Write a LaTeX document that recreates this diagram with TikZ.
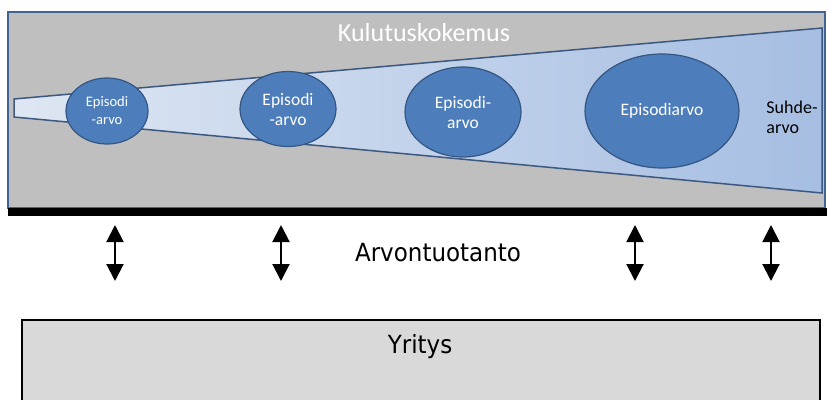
\documentclass[tikz,border=0pt]{standalone}
\usepackage{fontspec}
\setmainfont{Carlito}
\newfontfamily\plainsans[FakeStretch=0.92]{DejaVu Sans}
\usepackage{tikz}
\usetikzlibrary{arrows.meta,shapes.geometric}
\definecolor{frameblue}{RGB}{66,100,146}
\definecolor{panelgray}{RGB}{191,191,191}
\definecolor{wedgeleft}{RGB}{222,231,243}
\definecolor{wedgeright}{RGB}{166,190,226}
\definecolor{wedgeline}{RGB}{60,88,128}
\definecolor{epifill}{RGB}{77,125,186}
\definecolor{epiline}{RGB}{52,86,130}
\definecolor{boxgray}{RGB}{217,217,217}

\begin{document}
\begin{tikzpicture}[
  x=1pt, y=-1pt,
  frame/.style={
    draw=frameblue,
    line width=2.5pt,
    fill=panelgray
  },
  wedge/.style={
    draw=wedgeline,
    line width=1.5pt,
    left color=wedgeleft,
    right color=wedgeright
  },
  episode/.style={
    ellipse,
    draw=epiline,
    line width=1.2pt,
    fill=epifill,
    text=white,
    align=center,
    inner sep=0pt,
    font=\fontsize{17.5}{20}\selectfont
  },
  twoway/.style={{Triangle[width=17pt,length=17pt]}-{Triangle[width=17pt,length=17pt]}, line width=2pt},
  company/.style={draw=black, line width=1.5pt, fill=boxgray}
]
  \useasboundingbox (0,0) rectangle (827,399);
  \clip (0,0) rectangle (827,399);

  \draw[frame] (8,12) rectangle (825,208);
  \fill[black] (8,208) rectangle (827,216);
  \node[text=white, font=\fontsize{26}{28}\selectfont] (title) at (424,33) {Kulutuskokemus};

  \draw[wedge] (14,99) -- (822,28) -- (822,193) -- (14,117) -- cycle;

  \node[episode, minimum width=82pt, minimum height=66pt, font=\fontsize{14.5}{18}\selectfont] (e1) at (107,111) {Episodi\\-arvo};
  \node[episode, minimum width=96pt, minimum height=75pt] (e2) at (288,109) {Episodi\\-arvo};
  \node[episode, minimum width=116pt, minimum height=90pt] (e3) at (463,112) {Episodi-\\arvo};
  \node[episode, minimum width=154pt, minimum height=114pt] (e4) at (662,111) {Episodiarvo};
  \node[align=left, font=\fontsize{18}{20}\selectfont] (rel) at (792,117) {Suhde-\\arvo};

  \node[font=\plainsans\fontsize{25}{28}\selectfont] (prod) at (438,253) {Arvontuotanto};

  \foreach \x [count=\i] in {115,281,635,771} {
    \coordinate (top\i) at (\x,225);
    \coordinate (bot\i) at (\x,281);
    \draw[twoway] (top\i) -- (bot\i);
  }

  \draw[company] (22,320) rectangle (820,410);
  \node[font=\plainsans\fontsize{25}{28}\selectfont] (firm) at (420,347) {Yritys};
\end{tikzpicture}
\end{document}
